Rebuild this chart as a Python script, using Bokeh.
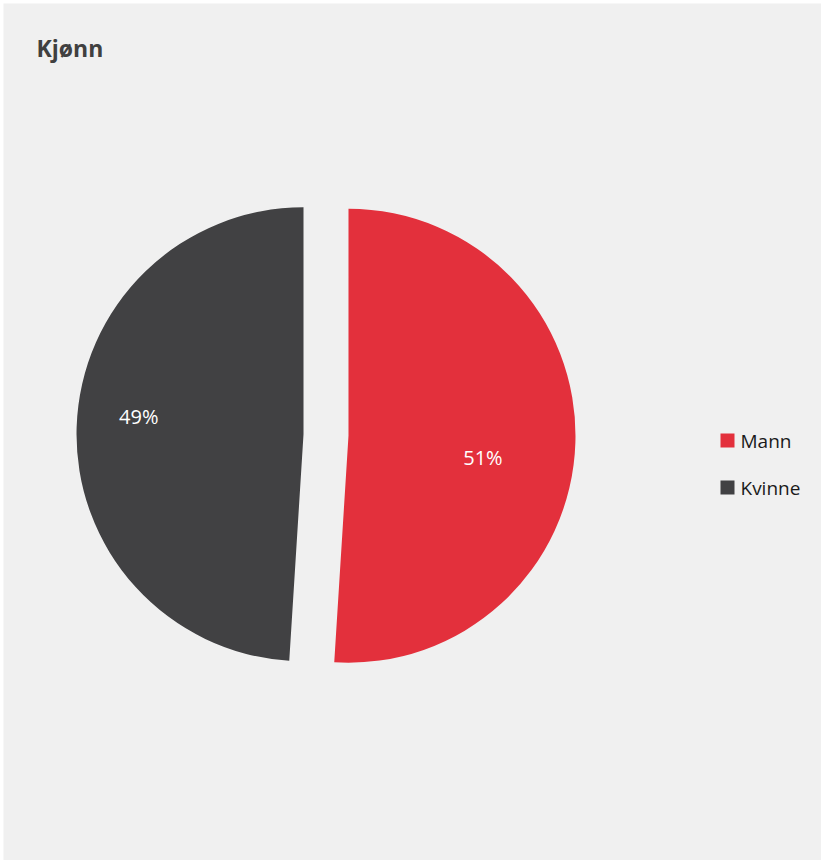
import math
from bokeh.plotting import figure
from bokeh.models import Range1d, Label
from bokeh.core.properties import value
from bokeh.embed import file_html
from bokeh.resources import INLINE

# ---- data ----
title = "Kjønn"
categories = ["Mann", "Kvinne"]
shares = [51, 49]
labels = ["51%", "49%"]
colors = ["#e3303c", "#414143"]

# ---- layout (pixel-like coordinates, y up) ----
W, H = 821, 860
ML, MT = 3, 3
PAGE_H = 860
BG = "#f0f0f0"

def py(ref_y):
    return PAGE_H - ref_y

cx, cy = 325.5, py(434.5)
R = 227
explode = 22.5
label_rad = [0.6, 0.73]
label_shift = [-7.5, -4.4]  # degrees adjustment of label direction

p = figure(width=W, height=H, output_backend="svg", toolbar_location=None,
           x_range=Range1d(ML, W), y_range=Range1d(0, PAGE_H - MT),
           min_border=0, min_border_left=ML, min_border_top=MT,
           background_fill_color=BG, border_fill_color="white")
p.outline_line_color = None
p.axis.visible = False
p.xgrid.visible = False
p.ygrid.visible = False

total = sum(shares)
start = 90.0
for i, (cat, s, lab, col) in enumerate(zip(categories, shares, labels, colors)):
    sweep = 360.0 * s / total
    end = start - sweep
    mid = math.radians((start + end) / 2)
    ox = cx + explode * math.cos(mid)
    oy = cy + explode * math.sin(mid)
    p.wedge(x=[ox], y=[oy], radius=R, start_angle=[math.radians(start)],
            end_angle=[math.radians(end)], direction="clock",
            fill_color=col, line_color=None)
    la = mid + math.radians(label_shift[i])
    lx = ox + label_rad[i] * R * math.cos(la)
    ly = oy + label_rad[i] * R * math.sin(la)
    p.text(x=[lx], y=[ly], text=[lab], text_color="white",
           text_font=value("Open Sans"), text_font_size="20px",
           text_align="center", text_baseline="middle")
    start = end

# legend
leg_x, leg_y, leg_dy = 727, py(440), 47
for i, (cat, col) in enumerate(zip(categories, colors)):
    yy = leg_y - i * leg_dy
    p.scatter(x=[leg_x], y=[yy], marker="square", size=14, fill_color=col, line_color=None)
    p.text(x=[leg_x + 13], y=[yy], text=[cat], text_color="#1a1a1a",
           text_font=value("Open Sans"), text_font_size="19px",
           text_align="left", text_baseline="middle")

p.add_layout(Label(x=36, y=py(47), text=title, text_font="Open Sans",
                   text_font_size="23px", text_font_style="bold",
                   text_color="#404040", text_baseline="middle"))

open("out.html", "w").write(file_html(p, INLINE))
